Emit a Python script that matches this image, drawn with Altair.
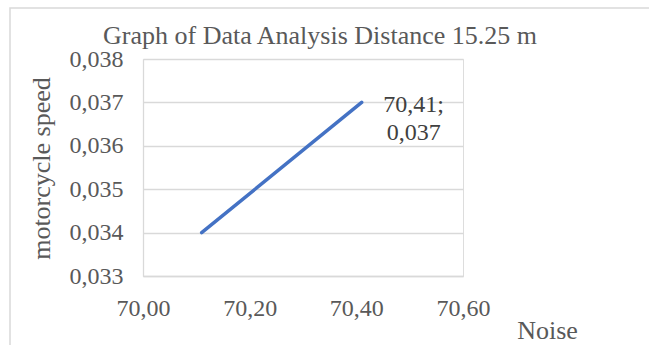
import altair as alt
import pandas as pd

# Data
noise = [70.11, 70.41]
speed = [0.034, 0.037]
y_ticks = [0.033, 0.034, 0.035, 0.036, 0.037, 0.038]
x_ticks = [70.0, 70.2, 70.4, 70.6]

df = pd.DataFrame({"noise": noise, "speed": speed})
lab = pd.DataFrame({
    "noise": [noise[-1]],
    "speed": [speed[-1]],
    "label": [f"{noise[-1]:.2f};\n{speed[-1]:.3f}".replace(".", ",")],
})

FONT = "Liberation Serif"
GRID = "#d9d9d9"
TXT = "#595959"

x_enc = alt.X(
    "noise:Q",
    scale=alt.Scale(domain=[70.0, 70.6], nice=False, zero=False),
    axis=alt.Axis(
        values=x_ticks,
        labelExpr="replace(format(datum.value, '.2f'), '.', ',')",
        title="Noise",
        titleX=404, titleY=54, titleAlign="center", titleBaseline="middle",
        grid=False, ticks=False, domain=True, domainColor=GRID, domainWidth=1.3,
        labelPadding=20, labelFontSize=24, labelColor=TXT, labelFont=FONT,
        titleFont=FONT, titleFontSize=26, titleColor=TXT, titleFontWeight="normal",
        labelFlush=False, labelOverlap=False,
    ),
)
y_enc = alt.Y(
    "speed:Q",
    scale=alt.Scale(domain=[0.033, 0.038], nice=False, zero=False),
    axis=alt.Axis(
        values=y_ticks,
        labelExpr="replace(format(datum.value, '.3f'), '.', ',')",
        title="motorcycle speed",
        titleX=-102, titleY=109, titleAngle=270, titleAlign="center", titleBaseline="middle",
        grid=True, gridColor=GRID, gridWidth=1.3,
        ticks=False, domain=True, domainColor=GRID, domainWidth=1.3,
        labelPadding=20, labelFontSize=24, labelColor=TXT, labelFont=FONT,
        titleFont=FONT, titleFontSize=26, titleColor=TXT, titleFontWeight="normal",
        labelFlush=False, labelOverlap=False,
    ),
)

border = alt.Chart(pd.DataFrame({"a": [0]})).mark_rect(
    fillOpacity=0, stroke=GRID, strokeWidth=1.5
).encode(
    x=alt.value(-133), x2=alt.value(700), y=alt.value(-51), y2=alt.value(400)
)

line = alt.Chart(df).mark_line(color="#4472C4", strokeWidth=3.5, strokeCap="round").encode(
    x=x_enc, y=y_enc
)

text = alt.Chart(lab).mark_text(
    font=FONT, fontSize=24, color="#404040", align="center", baseline="middle",
    lineBreak="\n", lineHeight=28, dx=52, dy=3,
).encode(x="noise:Q", y="speed:Q", text="label:N")

chart = alt.layer(border, line, text).properties(
    width=320,
    height=217,
    padding={"left": 143, "top": 59, "right": 186, "bottom": 69},
    autosize="none",
    title=alt.TitleParams(
        "Graph of Data Analysis  Distance 15.25 m",
        font=FONT, fontSize=26, color=TXT, fontWeight="normal",
        anchor="middle", baseline="alphabetic", offset=8, dx=17, dy=71,
    ),
).configure_view(stroke=None).configure(background="white")

chart.save("out.html", embed_options={"renderer": "svg", "actions": False})
